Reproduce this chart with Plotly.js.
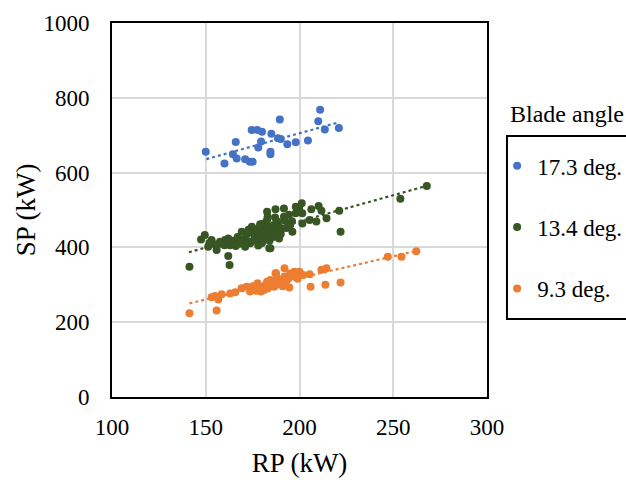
<!DOCTYPE html>
<html>
<head>
<meta charset="utf-8">
<script src="https://cdn.plot.ly/plotly-3.0.1.min.js"></script>
<style>html,body{margin:0;padding:0;background:#fff;}#chart{width:626px;height:480px;}</style>
</head>
<body>
<div id="chart"></div>
<script>
// Series names
const seriesNames = ["17.3 deg.", "13.4 deg.", "9.3 deg."];

// 17.3 deg. (blue)
const blueX = [150, 160, 166, 164.5, 166.5, 171, 173.5, 175, 174.5, 177.5, 180, 179.5, 178, 184.5, 184.5, 185, 189.5, 188.5, 190, 193.5, 198, 204.5, 210, 211, 213.5, 221];
const blueY = [656, 624, 682, 649, 638, 636, 629, 629, 714, 714, 709, 683, 667, 656, 649, 704, 742, 692, 690, 676, 681, 686, 737, 768, 715, 719];

// 13.4 deg. (green)
const greenX = [141.3, 147.5, 149.5, 151.3, 153.1, 155.8, 157.6, 160.3, 162, 162, 162.9, 162.7, 165.6, 168.3, 169.2, 172.8, 174.6, 171, 173.7, 176.4, 179.1, 178.2, 180.9, 182.7, 181.8, 184.5, 186.3, 188.1, 182.7, 187.2, 184.5, 191.7, 191.7, 194.4, 190, 189.1, 194.4, 196.2, 198, 199.8, 201.2, 198, 201.5, 201.5, 180, 178, 183.9, 206.3, 210.2, 211.7, 214.4, 221.2, 221.9, 205.4, 209, 253.8, 267.9,
  158, 160, 164, 167, 170, 172, 175, 177, 179, 181, 183, 185, 187, 176, 178, 180, 182, 184, 186, 188, 174, 177, 180, 183, 186, 189, 192, 195, 171, 168, 166, 155, 152, 190, 193, 196, 187, 183, 179, 175];
const greenY = [348, 421, 433, 402, 420, 393, 415, 420, 424, 377, 406, 353, 415, 420, 442, 447, 455, 424, 411, 424, 429, 451, 464, 473, 437, 447, 460, 469, 495, 502, 398, 504, 482, 487, 447, 424, 464, 442, 491, 504, 518, 509, 464, 491, 420, 405, 398, 502, 511, 498, 478, 498, 442, 473, 469, 530, 564,
  410, 406, 418, 428, 412, 436, 440, 418, 440, 452, 430, 436, 452, 432, 446, 426, 444, 418, 440, 458, 416, 438, 412, 456, 428, 456, 472, 460, 402, 410, 404, 408, 412, 436, 452, 470, 480, 482, 462, 446];

// 9.3 deg. (orange)
const orangeX = [141.3, 155.8, 153.1, 154.9, 156.7, 158.5, 163, 165.7, 169.1, 171.8, 173.6, 175.4, 177.6, 178.2, 180.9, 182.7, 184.5, 187.2, 187.2, 179.4, 187.5, 192, 197.3, 200, 186.5, 194.6, 205.9, 213.8, 221.9, 205.4, 211.7, 214.4, 247.1, 254.4, 262.3,
  176, 178, 180, 182, 184, 186, 188, 190, 192, 194, 196, 198, 177, 181, 185, 189, 193, 197, 183, 191, 195, 199, 202, 175, 179];
const orangeY = [224, 231, 267, 270, 261, 275, 277, 280, 291, 295, 282, 288, 304, 286, 295, 308, 313, 331, 299, 282, 331, 344, 335, 335, 295, 293, 295, 300, 306, 328, 340, 344, 375, 375, 390,
  292, 298, 290, 300, 296, 306, 318, 312, 322, 316, 326, 320, 284, 286, 302, 304, 310, 324, 290, 296, 330, 316, 326, 296, 292];

// Trendline endpoints
const blueTrendX = [150.3, 220.7];
const blueTrendY = [636, 734];
const greenTrendX = [141, 267.5];
const greenTrendY = [387, 564];
const orangeTrendX = [141.3, 262];
const orangeTrendY = [250.5, 390];

const xTicks = [100, 150, 200, 250, 300];
const yTicks = [0, 200, 400, 600, 800, 1000];

const colBlue = "#4472C4", colGreen = "#375623", colOrange = "#ED7D31";
const FONT = "Liberation Serif";

const traces = [
  {x: blueX, y: blueY, name: seriesNames[0], type: "scatter", mode: "markers", marker: {color: colBlue, size: 8}, legendgroup: "a", cliponaxis: false},
  {x: greenX, y: greenY, name: seriesNames[1], type: "scatter", mode: "markers", marker: {color: colGreen, size: 8}, legendgroup: "b", cliponaxis: false},
  {x: orangeX, y: orangeY, name: seriesNames[2], type: "scatter", mode: "markers", marker: {color: colOrange, size: 8}, legendgroup: "c", cliponaxis: false},
  {x: blueTrendX, y: blueTrendY, type: "scatter", mode: "lines", line: {color: colBlue, width: 2.2, dash: "dot"}, showlegend: false, hoverinfo: "skip"},
  {x: greenTrendX, y: greenTrendY, type: "scatter", mode: "lines", line: {color: colGreen, width: 2.2, dash: "dot"}, showlegend: false, hoverinfo: "skip"},
  {x: orangeTrendX, y: orangeTrendY, type: "scatter", mode: "lines", line: {color: colOrange, width: 2.2, dash: "dot"}, showlegend: false, hoverinfo: "skip"}
];

const layout = {
  width: 626, height: 480,
  margin: {l: 112, r: 139, t: 23, b: 83, autoexpand: false},
  paper_bgcolor: "#fff", plot_bgcolor: "#fff",
  font: {family: FONT, color: "#000", size: 23},
  showlegend: true,
  xaxis: {
    range: [100, 300], tickvals: xTicks, ticktext: xTicks.map(String),
    showgrid: true, gridcolor: "#d9d9d9", gridwidth: 2,
    showline: true, linecolor: "#000", linewidth: 2, mirror: true,
    zeroline: false, ticks: "", ticklabelstandoff: 8,
    tickfont: {family: FONT, size: 23, color: "#000"},
    title: {text: "RP (kW)", font: {family: FONT, size: 27, color: "#000"}, standoff: 15}
  },
  yaxis: {
    range: [0, 1000], tickvals: yTicks, ticktext: yTicks.map(String),
    showgrid: true, gridcolor: "#d9d9d9", gridwidth: 2,
    showline: true, linecolor: "#000", linewidth: 2, mirror: true,
    zeroline: false, ticks: "", ticklabelstandoff: 16,
    tickfont: {family: FONT, size: 23, color: "#000"},
    title: {text: "SP (kW)", font: {family: FONT, size: 27, color: "#000"}, standoff: 0}
  },
  legend: {
    x: 1.027, xanchor: "left", y: 0.676, yanchor: "top",
    xref: "paper", yref: "paper",
    bgcolor: "rgba(0,0,0,0)", borderwidth: 0,
    traceorder: "grouped", tracegroupgap: 28.5,
    font: {family: FONT, size: 23, color: "#000"}
  },
  shapes: [
    {type: "rect", xref: "paper", yref: "paper", x0: 1.0533, x1: 1.45, y0: 0.2086, y1: 0.6979,
     line: {color: "#000", width: 2}, fillcolor: "rgba(0,0,0,0)", layer: "above"}
  ],
  annotations: [
    {text: "Blade angle", xref: "paper", yref: "paper", x: 1.056, y: 0.756, xanchor: "left", yanchor: "middle",
     showarrow: false, font: {family: FONT, size: 24, color: "#000"}}
  ]
};

Plotly.newPlot("chart", traces, layout, {displayModeBar: false, staticPlot: true});
</script>
</body>
</html>
